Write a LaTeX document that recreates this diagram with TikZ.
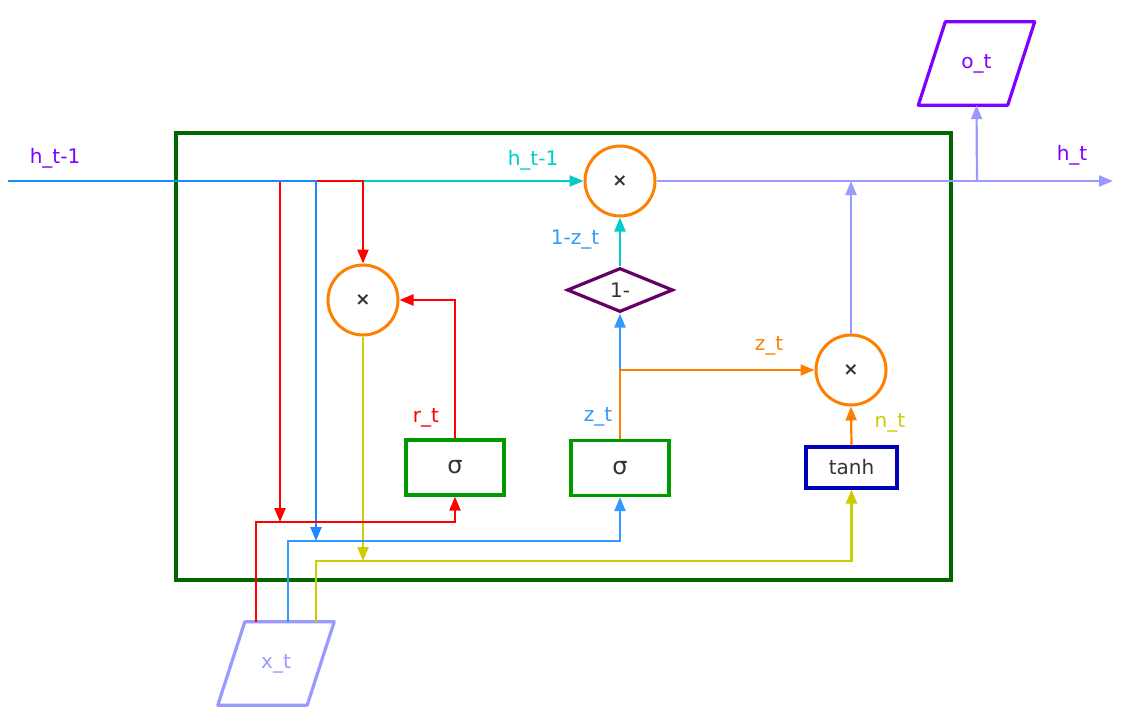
\documentclass[tikz,border=0pt]{standalone}
\usepackage{fontspec}
\setmainfont{DejaVu Sans}
\usetikzlibrary{arrows.meta,shapes.geometric,calc}
\definecolor{frameg}{HTML}{006600}
\definecolor{gorange}{HTML}{FF8000}
\definecolor{gred}{HTML}{FF0000}
\definecolor{gblue}{HTML}{1E88FF}
\definecolor{zblue}{HTML}{3399FF}
\definecolor{gcyan}{HTML}{00CCCC}
\definecolor{gyellow}{HTML}{CCCC00}
\definecolor{glav}{HTML}{9999FF}
\definecolor{gviolet}{HTML}{7F00FF}
\definecolor{dpurple}{HTML}{660066}
\definecolor{sgreen}{HTML}{009900}
\definecolor{tblue}{HTML}{0000BB}
\definecolor{txt}{HTML}{333333}
\tikzset{
  conn/.style={line width=2.2pt, -{Triangle[length=14pt,width=11pt]}},
  plain/.style={line width=2.2pt},
  mult/.style={circle, draw=gorange, line width=3pt, minimum size=70pt, inner sep=0pt, text=txt, font=\fontsize{18}{20}\selectfont\bfseries},
  gate/.style={rectangle, draw=sgreen, line width=3.2pt, minimum width=98pt, minimum height=55pt, inner sep=0pt, text=txt, font=\fontsize{24}{26}\selectfont},
  tanhbox/.style={rectangle, draw=tblue, line width=3.2pt, minimum width=91pt, minimum height=41pt, inner sep=0pt, text=txt, font=\fontsize{20}{22}\selectfont},
  onemin/.style={diamond, draw=dpurple, line width=3.2pt, minimum width=106pt, minimum height=44pt, inner sep=0pt, text=txt, font=\fontsize{20}{22}\selectfont},
  para/.style={rectangle, draw=none, inner sep=0pt, minimum width=116pt, minimum height=83pt, font=\fontsize{20}{22}\selectfont},
  lbl/.style={font=\fontsize{20}{22}\selectfont, inner sep=0pt},
}
\begin{document}
\begin{tikzpicture}[x=1pt,y=-1pt]
\useasboundingbox (0,0) rectangle (1141,723);
% frame
\node[draw=frameg, line width=3.4pt, minimum width=775pt, minimum height=447pt, inner sep=0pt] (frame) at (563.5,356.5) {};
% nodes
\node[mult] (m1) at (363,300) {×};
\node[mult] (mt) at (620,181) {×};
\node[mult] (mr) at (851,370) {×};
\node[onemin] (dia) at (620,290) {1-};
\node[gate] (sr) at (455,467.5) {σ};
\node[gate] (sz) at (620,468) {σ};
\node[tanhbox] (th) at (851.5,467.5) {tanh};
\node[para, text=glav] (xt) at (276,663.5) {x\_t};
\draw[glav, line width=3.2pt, line join=round] ([xshift=27pt]xt.north west) -- (xt.north east) -- ([xshift=-27pt]xt.south east) -- (xt.south west) -- cycle;
\node[para, text=gviolet] (ot) at (976.5,63.5) {o\_t};
\draw[gviolet, line width=3.2pt, line join=round] ([xshift=27pt]ot.north west) -- (ot.north east) -- ([xshift=-27pt]ot.south east) -- (ot.south west) -- cycle;
% coordinates
\coordinate (hin) at (8,181);
\coordinate (r1) at (280,522);
\coordinate (b1) at (316,541);
\coordinate (y1) at (363,561);
\coordinate (zs) at (620,370);
\coordinate (j1) at (851,181);
\coordinate (j2) at (977,181);
\coordinate (hout) at (1113,181);
\coordinate (xr) at ([xshift=-20pt]xt.north);
\coordinate (xb) at ([xshift=12pt]xt.north);
\coordinate (xy) at ([xshift=40pt]xt.north);
% h_{t-1} branches
\draw[conn, gcyan] (hin) -- (mt.west);
\draw[conn, gred] (hin) -| (m1.north);
\draw[conn, gred] (hin) -| (r1);
\draw[conn, gblue] (hin) -| (b1);
% reset gate
\draw[conn, gred] (sr.north) |- (m1.east);
\draw[conn, gyellow] (m1.south) -- (y1);
% x_t branches
\draw[conn, gred] (xr) |- (r1) -| (sr.south);
\draw[conn, zblue] (xb) |- (b1) -| (sz.south);
\draw[conn, gyellow] (xy) |- (y1) -| (th.south);
% update gate
\draw[plain, gorange] (sz.north) -- (zs);
\draw[conn, zblue] (zs) -- (dia.south);
\draw[conn, gorange] (zs) -- (mr.west);
\draw[conn, gcyan] (dia.north) -- (mt.south);
\draw[conn, gorange] (th.north) -- (mr.south);
% output
\draw[conn, glav] (mr.north) -- (j1);
\draw[conn, glav] (mt.east) -- (hout);
\draw[conn, glav] (j2) -- (ot.south);
% labels
\node[lbl, text=gviolet] (l1) at (55,158) {h\_t-1};
\node[lbl, text=gcyan] (l2) at (533,160) {h\_t-1};
\node[lbl, text=zblue] (l3) at (575,240) {1-z\_t};
\node[lbl, text=gorange] (l4) at (769,346) {z\_t};
\node[lbl, text=zblue] (l5) at (598,417) {z\_t};
\node[lbl, text=gred] (l6) at (426,418) {r\_t};
\node[lbl, text=gyellow] (l7) at (890,423) {n\_t};
\node[lbl, text=gviolet] (l8) at (1072,155) {h\_t};
\end{tikzpicture}
\end{document}
